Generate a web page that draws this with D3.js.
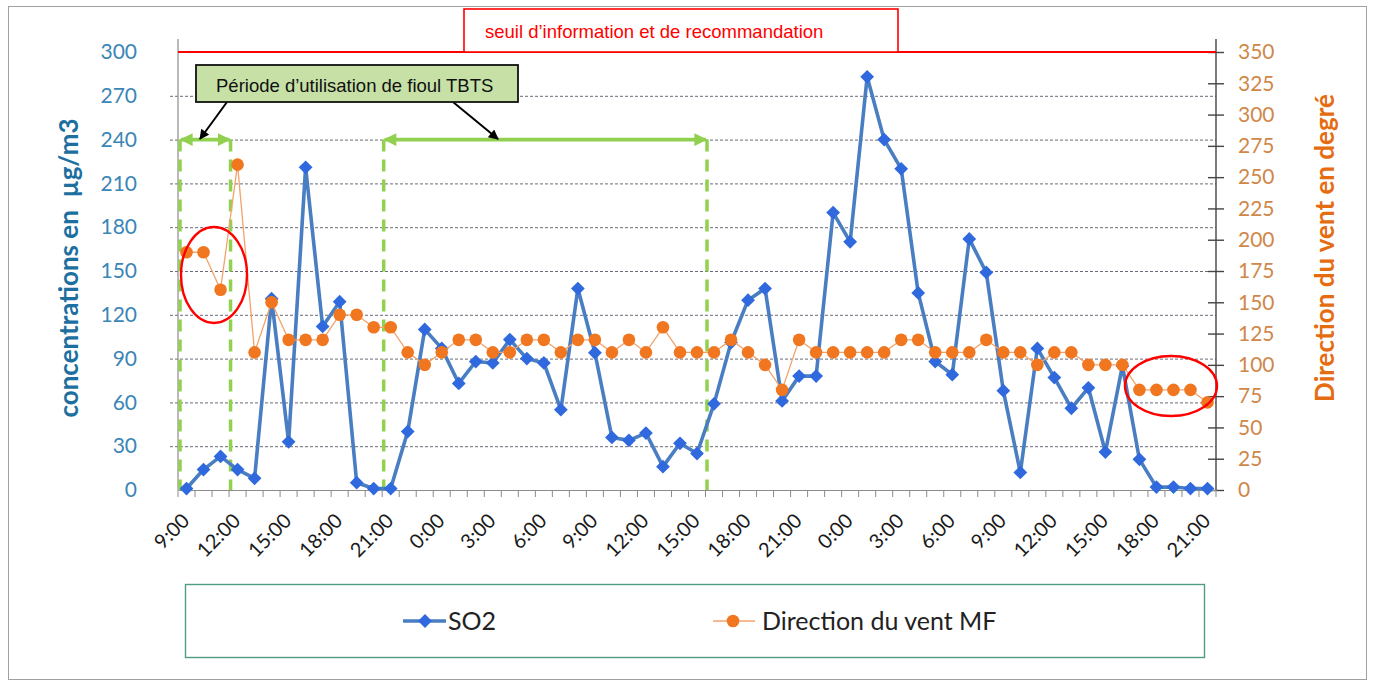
<!DOCTYPE html>
<html>
<head>
<meta charset="UTF-8">
<script src="https://cdn.jsdelivr.net/npm/d3@7"></script>
<style>
body { margin: 0; background: #fff; }
svg text { font-family: Lato, "Open Sans", sans-serif; }
</style>
</head>
<body>
<svg id="chart" width="1373" height="684"></svg>
<script>
// hourly labels, 9:00 day 1 -> 21:00 day 3
const times = ["9:00","10:00","11:00","12:00","13:00","14:00","15:00","16:00","17:00","18:00","19:00","20:00","21:00","22:00","23:00",
  "0:00","1:00","2:00","3:00","4:00","5:00","6:00","7:00","8:00","9:00","10:00","11:00","12:00","13:00","14:00","15:00","16:00","17:00",
  "18:00","19:00","20:00","21:00","22:00","23:00","0:00","1:00","2:00","3:00","4:00","5:00","6:00","7:00","8:00","9:00","10:00","11:00",
  "12:00","13:00","14:00","15:00","16:00","17:00","18:00","19:00","20:00","21:00"];
const so2 = [1,14,23,14,8,131,33,221,112,129,5,1,1,40,110,97,73,88,87,103,90,87,55,138,94,36,34,39,16,32,25,59,101,130,138,61,78,78,
  190,170,283,240,220,135,88,79,172,149,68,12,97,77,56,70,26,85,21,2,2,1,1];
const wind = [190,190,160,260,110,150,120,120,120,140,140,130,130,110,100,110,120,120,110,110,120,120,110,120,120,110,120,110,130,110,
  110,110,120,110,100,80,120,110,110,110,110,110,120,120,110,110,110,120,110,110,100,110,110,100,100,100,80,80,80,80,70];
const leftTicks = [0,30,60,90,120,150,180,210,240,270,300];
const rightTicks = [0,25,50,75,100,125,150,175,200,225,250,275,300,325,350];
const threshold = 300;
const periods = [[0,3],[12,31]];   // TBTS fuel periods, category index bounds
const seriesNames = ["SO2", "Direction du vent MF"];

const svg = d3.select("#chart");
const pLeft = 178, pRight = 1216, pTop = 52, pBottom = 490;

const x = d3.scaleBand().domain(d3.range(times.length)).range([pLeft, pRight]);
const yL = d3.scaleLinear().domain([0, 300]).range([pBottom, pTop]);
const yR = d3.scaleLinear().domain([0, 350]).range([pBottom, pTop]);
const cx = i => x(i) + x.bandwidth() / 2;

// outer frame
svg.append("rect").attr("x", 8.5).attr("y", 6.5).attr("width", 1358).attr("height", 673)
  .attr("fill", "none").attr("stroke", "#a0a0a0");

// gridlines
svg.append("g").selectAll("line").data(leftTicks.filter(d => d > 0 && d < 300)).enter().append("line")
  .attr("x1", 170).attr("x2", pRight).attr("y1", d => yL(d) + 0.5).attr("y2", d => yL(d) + 0.5)
  .attr("stroke", "#6a6a78").attr("stroke-dasharray", "3,2").attr("stroke-width", 1);

// left axis
const gL = svg.append("g").attr("transform", `translate(${pLeft},0)`)
  .call(d3.axisLeft(yL).tickValues(leftTicks).tickSize(0).tickPadding(41));
gL.select(".domain").remove();
gL.selectAll("text").attr("fill", "#3a86b6").attr("font-size", 21);
svg.append("line").attr("x1", pLeft).attr("x2", pLeft).attr("y1", 39).attr("y2", pBottom)
  .attr("stroke", "#8c8c8c").attr("stroke-width", 1.2);

// right axis
const gR = svg.append("g").attr("transform", `translate(${pRight},0)`)
  .call(d3.axisRight(yR).tickValues(rightTicks).tickSize(8).tickPadding(14));
gR.select(".domain").remove();
gR.selectAll(".tick line").attr("x1", -8).attr("stroke", "#444").attr("stroke-width", 1.4);
gR.selectAll("text").attr("fill", "#d0874a").attr("font-size", 21);
svg.append("line").attr("x1", pRight).attr("x2", pRight).attr("y1", 39).attr("y2", pBottom)
  .attr("stroke", "#444").attr("stroke-width", 1.4);

// x axis
const gX = svg.append("g").attr("transform", `translate(0,${pBottom})`)
  .call(d3.axisBottom(x).tickSize(0).tickFormat((d, i) => i % 3 == 0 ? times[i] : ""));
gX.select(".domain").attr("stroke", "#8c8c8c").attr("stroke-width", 1.2);
gX.selectAll("text").attr("font-size", 20).attr("fill", "#1a1a1a")
  .attr("text-anchor", "end").attr("dy", 0)
  .attr("transform", "translate(2,30) rotate(-45)");
svg.append("g").selectAll("line").data(d3.range(times.length + 1)).enter().append("line")
  .attr("x1", d => pLeft + d * x.step()).attr("x2", d => pLeft + d * x.step())
  .attr("y1", pBottom).attr("y2", pBottom + 7).attr("stroke", "#8c8c8c");

// axis titles
svg.append("text").attr("transform", "translate(78,268) rotate(-90)").attr("text-anchor", "middle")
  .attr("font-size", 26).attr("font-weight", "bold").attr("fill", "#1d6f9f")
  .style("white-space", "pre")
  .text("concentrations en  µg/m3");
svg.append("text").attr("transform", "translate(1334,248) rotate(-90)").attr("text-anchor", "middle")
  .attr("font-size", 26).attr("font-weight", "bold").attr("fill", "#e66c12")
  .text("Direction du vent en degré");

// threshold line + label box
svg.append("line").attr("x1", pLeft).attr("x2", pRight).attr("y1", yL(threshold)).attr("y2", yL(threshold))
  .attr("stroke", "#ff0000").attr("stroke-width", 2.2);
svg.append("rect").attr("x", 464).attr("y", 9).attr("width", 434).attr("height", yL(threshold) - 9)
  .attr("fill", "#fff").attr("stroke", "#ff0000").attr("stroke-width", 1.6);
svg.append("text").attr("x", 485).attr("y", 38).attr("font-size", 18.5).attr("fill", "#ff0000")
  .style("font-family", "'Liberation Sans', Arial, sans-serif")
  .text("seuil d’information et de recommandation");

// period markers
const green = "#92d050";
const defs = svg.append("defs");
defs.append("marker").attr("id", "gArrow").attr("viewBox", "0 0 10 10").attr("refX", 9).attr("refY", 5)
  .attr("markerWidth", 3.6).attr("markerHeight", 3.4).attr("orient", "auto-start-reverse")
  .attr("markerUnits", "strokeWidth")
  .append("path").attr("d", "M0,0L10,5L0,10Z").attr("fill", green);
defs.append("marker").attr("id", "kArrow").attr("viewBox", "0 0 10 10").attr("refX", 9).attr("refY", 5)
  .attr("markerWidth", 6).attr("markerHeight", 5).attr("orient", "auto")
  .attr("markerUnits", "strokeWidth")
  .append("path").attr("d", "M0,0L10,5L0,10Z").attr("fill", "#000");

const bx = i => pLeft + i * x.step() + (i == 0 ? 2 : 1.5);
const pg = svg.append("g");
periods.forEach(p => {
  p.forEach(i => {
    pg.append("line").attr("x1", bx(i)).attr("x2", bx(i)).attr("y1", yL(240)).attr("y2", pBottom)
      .attr("stroke", green).attr("stroke-width", 3.5).attr("stroke-dasharray", "12,8");
  });
  pg.append("line").attr("x1", bx(p[0]) + 1).attr("x2", bx(p[1]) - 1).attr("y1", yL(240)).attr("y2", yL(240))
    .attr("stroke", green).attr("stroke-width", 3.8)
    .attr("marker-start", "url(#gArrow)").attr("marker-end", "url(#gArrow)");
});

// callout box
svg.append("line").attr("x1", 227).attr("y1", 102).attr("x2", 200).attr("y2", 139)
  .attr("stroke", "#000").attr("stroke-width", 2).attr("marker-end", "url(#kArrow)");
svg.append("line").attr("x1", 453).attr("y1", 102).attr("x2", 498).attr("y2", 139)
  .attr("stroke", "#000").attr("stroke-width", 2).attr("marker-end", "url(#kArrow)");
svg.append("rect").attr("x", 196).attr("y", 65).attr("width", 322).attr("height", 37)
  .attr("fill", "#c6e0a6").attr("stroke", "#111").attr("stroke-width", 1.8);
svg.append("text").attr("x", 216).attr("y", 92).attr("font-size", 18.5)
  .attr("fill", "#111").style("font-family", "'Liberation Sans', Arial, sans-serif")
  .text("Période d’utilisation de fioul TBTS");

// SO2 series
const diamond = d3.symbol().type(d3.symbolSquare).size(95);
svg.append("path").datum(so2)
  .attr("d", d3.line().x((d, i) => cx(i)).y(d => yL(d)))
  .attr("fill", "none").attr("stroke", "#4a7ec2").attr("stroke-width", 3.6).attr("stroke-linejoin", "round");
svg.append("g").selectAll("path").data(so2).enter().append("path")
  .attr("d", diamond).attr("transform", (d, i) => `translate(${cx(i)},${yL(d)}) rotate(45)`).attr("fill", "#2f69dd");

// wind series
svg.append("path").datum(wind)
  .attr("d", d3.line().x((d, i) => cx(i)).y(d => yR(d)))
  .attr("fill", "none").attr("stroke", "#f2a36b").attr("stroke-width", 1.3);
svg.append("g").selectAll("circle").data(wind).enter().append("circle")
  .attr("cx", (d, i) => cx(i)).attr("cy", d => yR(d)).attr("r", 6.3).attr("fill", "#f0761f");

// red ellipses
svg.append("ellipse").attr("cx", 214).attr("cy", 275).attr("rx", 33).attr("ry", 48)
  .attr("fill", "none").attr("stroke", "#ff0000").attr("stroke-width", 2.4);
svg.append("ellipse").attr("cx", 1171).attr("cy", 386).attr("rx", 46).attr("ry", 30)
  .attr("fill", "none").attr("stroke", "#ff0000").attr("stroke-width", 2.4);

// legend
svg.append("rect").attr("x", 185.5).attr("y", 584.5).attr("width", 1019).attr("height", 73)
  .attr("fill", "#fff").attr("stroke", "#4f9d80").attr("stroke-width", 1.4);
const lg = svg.append("g");
lg.append("line").attr("x1", 403).attr("x2", 446).attr("y1", 621).attr("y2", 621)
  .attr("stroke", "#4a7ec2").attr("stroke-width", 3.6);
lg.append("path").attr("d", diamond).attr("transform", "translate(425,621) rotate(45)").attr("fill", "#2f69dd");
lg.append("text").attr("x", 448).attr("y", 630).attr("font-size", 25).attr("fill", "#222").text(seriesNames[0]);
lg.append("line").attr("x1", 713).attr("x2", 755).attr("y1", 621).attr("y2", 621)
  .attr("stroke", "#f2a36b").attr("stroke-width", 1.3);
lg.append("circle").attr("cx", 733).attr("cy", 621).attr("r", 6.3).attr("fill", "#f0761f");
lg.append("text").attr("x", 762).attr("y", 630).attr("font-size", 25).attr("fill", "#222").text(seriesNames[1]);
</script>
</body>
</html>
